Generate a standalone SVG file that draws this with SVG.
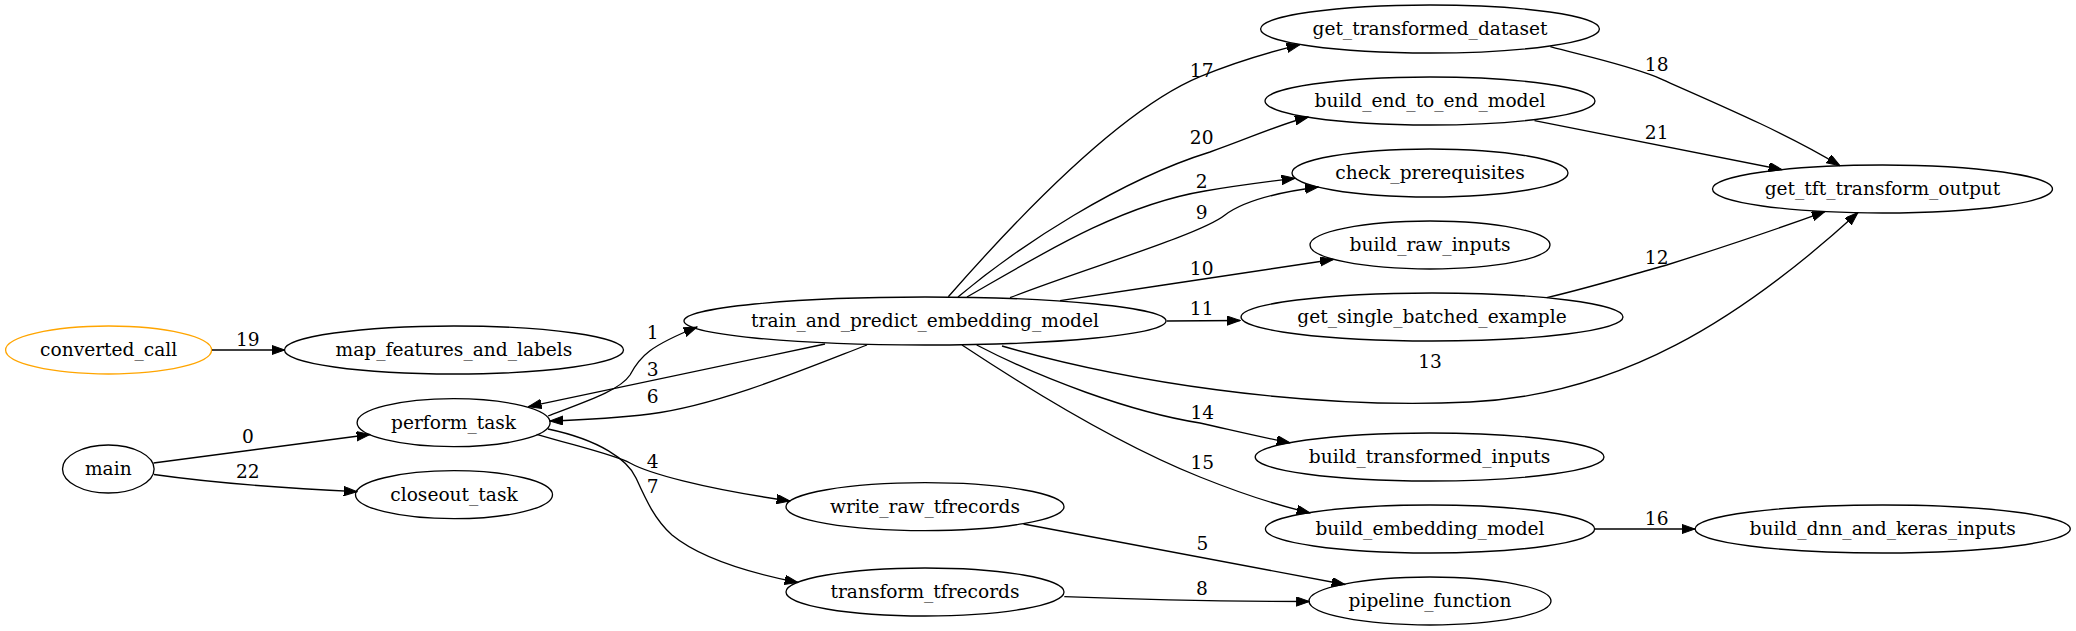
<svg xmlns="http://www.w3.org/2000/svg" width="2076" height="631" viewBox="0 0 2076 631">
<style>
.n ellipse{fill:none;stroke:#000;stroke-width:1.33}
.n text,.lbl text{font-family:"DejaVu Serif","Liberation Serif",serif;font-size:18.6px;text-anchor:middle;fill:#000}
.e path{fill:none;stroke:#000;stroke-width:1.33;marker-end:url(#arr)}
</style>
<defs>
<marker id="arr" markerUnits="userSpaceOnUse" markerWidth="14" markerHeight="10" viewBox="0 0 14 10" refX="13.3" refY="4.67" orient="auto">
<path d="M0,0 L13.3,4.67 L0,9.33 z" fill="#000" stroke="#000" stroke-width="1"/>
</marker>
</defs>
<rect width="2076" height="631" fill="#fff"/>
<g id="nodes">
<g id="converted_call" class="n"><ellipse cx="108.6" cy="350" rx="103" ry="24" style="stroke:#FFA500"/><text x="108.6" y="356">converted_call</text></g>
<g id="map_features_and_labels" class="n"><ellipse cx="454" cy="350" rx="169.5" ry="24"/><text x="454" y="356">map_features_and_labels</text></g>
<g id="main" class="n"><ellipse cx="108.3" cy="469" rx="45.8" ry="24"/><text x="108.3" y="475">main</text></g>
<g id="perform_task" class="n"><ellipse cx="453.6" cy="422.7" rx="96.5" ry="24"/><text x="453.6" y="428.7">perform_task</text></g>
<g id="closeout_task" class="n"><ellipse cx="454" cy="494.7" rx="98.5" ry="24"/><text x="454" y="500.7">closeout_task</text></g>
<g id="train_and_predict_embedding_model" class="n"><ellipse cx="925" cy="321" rx="241" ry="24"/><text x="925" y="327">train_and_predict_embedding_model</text></g>
<g id="write_raw_tfrecords" class="n"><ellipse cx="925" cy="506.7" rx="139" ry="24"/><text x="925" y="512.7">write_raw_tfrecords</text></g>
<g id="transform_tfrecords" class="n"><ellipse cx="925" cy="592" rx="139" ry="24"/><text x="925" y="598">transform_tfrecords</text></g>
<g id="get_transformed_dataset" class="n"><ellipse cx="1430" cy="29" rx="169.4" ry="24"/><text x="1430" y="35">get_transformed_dataset</text></g>
<g id="build_end_to_end_model" class="n"><ellipse cx="1430" cy="101" rx="165" ry="24"/><text x="1430" y="107">build_end_to_end_model</text></g>
<g id="check_prerequisites" class="n"><ellipse cx="1430" cy="173" rx="138" ry="24"/><text x="1430" y="179">check_prerequisites</text></g>
<g id="build_raw_inputs" class="n"><ellipse cx="1430" cy="245" rx="120" ry="24"/><text x="1430" y="251">build_raw_inputs</text></g>
<g id="get_single_batched_example" class="n"><ellipse cx="1432" cy="317" rx="191" ry="24"/><text x="1432" y="323">get_single_batched_example</text></g>
<g id="build_transformed_inputs" class="n"><ellipse cx="1429.6" cy="457" rx="174.4" ry="24"/><text x="1429.6" y="463">build_transformed_inputs</text></g>
<g id="build_embedding_model" class="n"><ellipse cx="1430" cy="529" rx="164.6" ry="24"/><text x="1430" y="535">build_embedding_model</text></g>
<g id="pipeline_function" class="n"><ellipse cx="1430" cy="601" rx="121" ry="24"/><text x="1430" y="607">pipeline_function</text></g>
<g id="get_tft_transform_output" class="n"><ellipse cx="1882.5" cy="189" rx="170" ry="24"/><text x="1882.5" y="195">get_tft_transform_output</text></g>
<g id="build_dnn_and_keras_inputs" class="n"><ellipse cx="1882.7" cy="529" rx="187.6" ry="24"/><text x="1882.7" y="535">build_dnn_and_keras_inputs</text></g>
</g>
<g id="connectors" class="e">
<path d="M212,350 L284.8,350"/>
<path d="M153.5,463 L370,434.5"/>
<path d="M154,474.5 C200,481 280,488 357,491.7"/>
<path d="M548,416 C590,400 620,390 630,375 C640,356 650,346 697,327"/>
<path d="M825,344 L528.3,406.7"/>
<path d="M867,345 C810,367 720,405 650,414 C610,419 580,420 550,421"/>
<path d="M536.7,434.3 C580,447 615,455 630,463 C648,473 700,488 790,501"/>
<path d="M548,429 C600,440 628,460 636,478 C646,500 655,520 672,535 C700,558 750,573 798,582.5"/>
<path d="M948.3,296.7 C1020,215 1120,110 1200,76.7 C1240,60 1270,52 1300,44.6"/>
<path d="M958,297 C1020,245 1120,180 1210,152 C1250,138 1280,124 1308.3,117"/>
<path d="M967,297 C1040,255 1120,205 1205,191 C1240,185 1265,182 1295,178.3"/>
<path d="M1010,297.7 C1080,270 1200,235 1225,215 C1245,200 1280,192 1318.3,187"/>
<path d="M1060,300.7 C1150,287 1250,272 1333.3,259.5"/>
<path d="M1166.7,321 L1240,320.5"/>
<path d="M1002,346 C1120,380 1300,410 1470,402 C1620,395 1740,320 1858,212.6"/>
<path d="M976.7,345 C1040,378 1130,412 1200,423 C1240,432 1265,438 1290,442.8"/>
<path d="M962,345 C1030,390 1120,445 1200,477 C1240,493 1275,505 1310,512.8"/>
<path d="M1023.5,524 L1345,584.5"/>
<path d="M1064.3,596.7 C1150,600 1230,601.5 1309.5,601.5"/>
<path d="M1546.7,297.7 C1600,285 1640,272 1666.7,265 C1730,245 1780,228 1825,211.6"/>
<path d="M1550.3,46.7 C1580,55 1620,63 1655.7,76.7 C1720,105 1790,135 1840,165.8"/>
<path d="M1534.5,120.7 L1782,169.6"/>
<path d="M1595,529 L1695,529"/>
</g>
<g id="labels" class="lbl">
<text x="247.8" y="345.5">19</text>
<text x="247.8" y="443.2">0</text>
<text x="247.8" y="478.2">22</text>
<text x="652.7" y="339.2">1</text>
<text x="652.7" y="375.5">3</text>
<text x="652.7" y="403.2">6</text>
<text x="652.7" y="467.5">4</text>
<text x="652.7" y="493.2">7</text>
<text x="1201.7" y="76.5">17</text>
<text x="1201.7" y="143.8">20</text>
<text x="1201.7" y="188.2">2</text>
<text x="1201.7" y="219.2">9</text>
<text x="1201.7" y="274.8">10</text>
<text x="1201.7" y="314.8">11</text>
<text x="1430" y="368.2">13</text>
<text x="1202.3" y="418.5">14</text>
<text x="1202.3" y="469.2">15</text>
<text x="1202.3" y="549.8">5</text>
<text x="1202" y="594.8">8</text>
<text x="1656.7" y="263.8">12</text>
<text x="1656.7" y="70.8">18</text>
<text x="1656.7" y="139.2">21</text>
<text x="1656.7" y="524.8">16</text>
</g>
</svg>
